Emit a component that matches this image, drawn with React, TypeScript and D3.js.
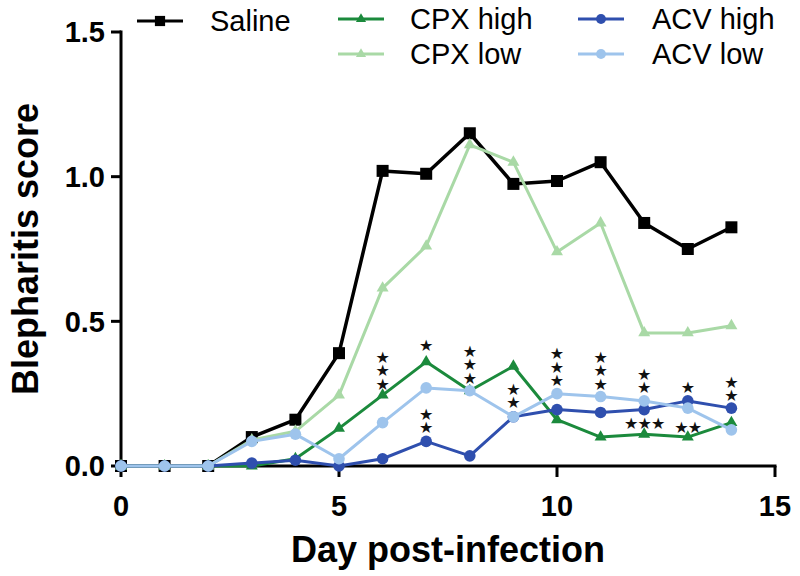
import React from "react";
import * as d3 from "d3";

// ---- data ----
const days = [0, 1, 2, 3, 4, 5, 6, 7, 8, 9, 10, 11, 12, 13, 14];
const saline = [0, 0, 0, 0.1, 0.16, 0.39, 1.02, 1.01, 1.15, 0.975, 0.985, 1.05, 0.84, 0.75, 0.825];
const cpxHigh = [0, 0, 0, 0, 0.025, 0.13, 0.245, 0.36, 0.26, 0.345, 0.16, 0.1, 0.11, 0.1, 0.15];
const cpxLow = [0, 0, 0, 0.09, 0.12, 0.245, 0.615, 0.76, 1.11, 1.05, 0.74, 0.84, 0.46, 0.46, 0.485];
const acvHigh = [0, 0, 0, 0.01, 0.02, 0, 0.025, 0.085, 0.035, 0.17, 0.195, 0.185, 0.195, 0.225, 0.2];
const acvLow = [0, 0, 0, 0.085, 0.11, 0.025, 0.15, 0.27, 0.26, 0.17, 0.25, 0.24, 0.225, 0.2, 0.125];

const seriesNames = ["Saline", "CPX high", "CPX low", "ACV high", "ACV low"];
const seriesValues = [saline, cpxHigh, cpxLow, acvHigh, acvLow];
const seriesColors = ["#000000", "#1b8a3c", "#a9d9a6", "#2f4fae", "#9ec4ec"];
const seriesShapes = ["square", "triangle", "triangle", "circle", "circle"];

const xTicks = [0, 5, 10, 15];
const yTicks = [0, 0.5, 1.0, 1.5];

// significance annotations (day, number of stars, y value of lowest star, stacking)
const starDays = [6, 7, 7, 8, 9, 10, 11, 12, 12, 13, 13, 14];
const starCounts = [3, 1, 2, 3, 2, 3, 3, 2, 3, 1, 2, 2];
const starValues = [0.287, 0.418, 0.135, 0.308, 0.221, 0.3, 0.287, 0.273, 0.149, 0.273, 0.135, 0.245];
const starStack = ["v", "v", "v", "v", "v", "v", "v", "v", "h", "v", "h", "v"];
const STAR = "★";

const FONT = "'Liberation Sans', Arial, Helvetica, sans-serif";

function Marker({ shape, cx, cy, color, s = 1 }: { shape: string; cx: number; cy: number; color: string; s?: number }) {
  if (shape === "square") {
    const w = 12 * s;
    return <rect x={cx - w / 2} y={cy - w / 2} width={w} height={w} fill={color} />;
  }
  if (shape === "triangle") {
    const p = d3.symbol().type(d3.symbolTriangle).size(62 * s * s)();
    return <path d={p || ""} transform={`translate(${cx},${cy})`} fill={color} />;
  }
  return <circle cx={cx} cy={cy} r={5.8 * s} fill={color} />;
}

export default function App() {
  const x = d3.scaleLinear().domain([0, 15]).range([121, 775]);
  const y = d3.scaleLinear().domain([0, 1.5]).range([466, 32]);
  const line = d3
    .line<number>()
    .x((_, i) => x(days[i]))
    .y((d) => y(d));

  const legendPos = [
    { lx: 137, ly: 21, tx: 210, ty: 31 },
    { lx: 338, ly: 19, tx: 410, ty: 29 },
    { lx: 338, ly: 54, tx: 410, ty: 64 },
    { lx: 578, ly: 19, tx: 652, ty: 29 },
    { lx: 578, ly: 54, tx: 652, ty: 64 },
  ];

  const starFs = 16;
  const starGap = 13;
  const vAdvance = 1.164 * starFs; // vertical advance used by the browser (ascent + descent)
  const vTop = 9; // distance from vertical text origin to first glyph centre
  const hOff = 6; // baseline offset for horizontal stars

  return (
    <svg width={800} height={576} style={{ position: "absolute", left: 0, top: 0, background: "#fff" }}>
      {/* axes */}
      <g stroke="#000" strokeWidth={3} fill="none">
        <line x1={x(0)} x2={x(0)} y1={y(1.5) - 1.5} y2={y(0)} />
        <line x1={x(0)} x2={x(15) + 1.5} y1={y(0)} y2={y(0)} />
        {yTicks.map((t) => (
          <line key={"yt" + t} x1={x(0) - 10} x2={x(0)} y1={y(t)} y2={y(t)} />
        ))}
        {xTicks.map((t) => (
          <line key={"xt" + t} x1={x(t)} x2={x(t)} y1={y(0)} y2={y(0) + 11} />
        ))}
      </g>
      <g fontFamily={FONT} fontWeight="bold" fontSize={29} fill="#000">
        {yTicks.map((t) => (
          <text key={"yl" + t} x={x(0) - 16} y={y(t)} dy="0.36em" textAnchor="end">
            {d3.format(".1f")(t)}
          </text>
        ))}
        {xTicks.map((t) => (
          <text key={"xl" + t} x={x(t)} y={516} textAnchor="middle">
            {t}
          </text>
        ))}
        <text x={448} y={562} textAnchor="middle" fontSize={36}>
          Day post-infection
        </text>
        <text transform={`translate(38,${(y(0) + y(1.5)) / 2}) rotate(-90)`} textAnchor="middle" fontSize={36}>
          Blepharitis score
        </text>
      </g>

      {/* series */}
      {seriesValues.map((vals, si) => (
        <g key={"s" + si}>
          <path d={line(vals) || ""} fill="none" stroke={seriesColors[si]} strokeWidth={si === 0 ? 3.5 : 3} strokeLinejoin="round" />
          {vals.map((v, i) => (
            <Marker key={i} shape={seriesShapes[si]} cx={x(days[i])} cy={y(v)} color={seriesColors[si]} />
          ))}
        </g>
      ))}

      {/* significance stars */}
      <g fontFamily="'DejaVu Sans', sans-serif" fontSize={starFs} fill="#111">
        {starDays.map((d, i) =>
          starStack[i] === "h" ? (
            <text key={"st" + i} x={x(d)} y={y(starValues[i]) + hOff} textAnchor="middle" letterSpacing={-0.8}>
              {STAR.repeat(starCounts[i])}
            </text>
          ) : (
            <text
              key={"st" + i}
              x={x(d)}
              y={y(starValues[i]) - (starCounts[i] - 1) * starGap - vTop}
              style={{ writingMode: "vertical-rl", textOrientation: "upright" } as any}
              letterSpacing={starGap - vAdvance}
            >
              {STAR.repeat(starCounts[i])}
            </text>
          )
        )}
      </g>

      {/* legend */}
      <g fontFamily={FONT} fontSize={29} fill="#000">
        {seriesNames.map((n, si) => {
          const p = legendPos[si];
          return (
            <g key={"lg" + si}>
              <line x1={p.lx} x2={p.lx + 46} y1={p.ly} y2={p.ly} stroke={seriesColors[si]} strokeWidth={3} />
              <Marker shape={seriesShapes[si]} cx={p.lx + 23} cy={p.ly} color={seriesColors[si]} s={0.85} />
              <text x={p.tx} y={p.ty}>
                {n}
              </text>
            </g>
          );
        })}
      </g>
    </svg>
  );
}
